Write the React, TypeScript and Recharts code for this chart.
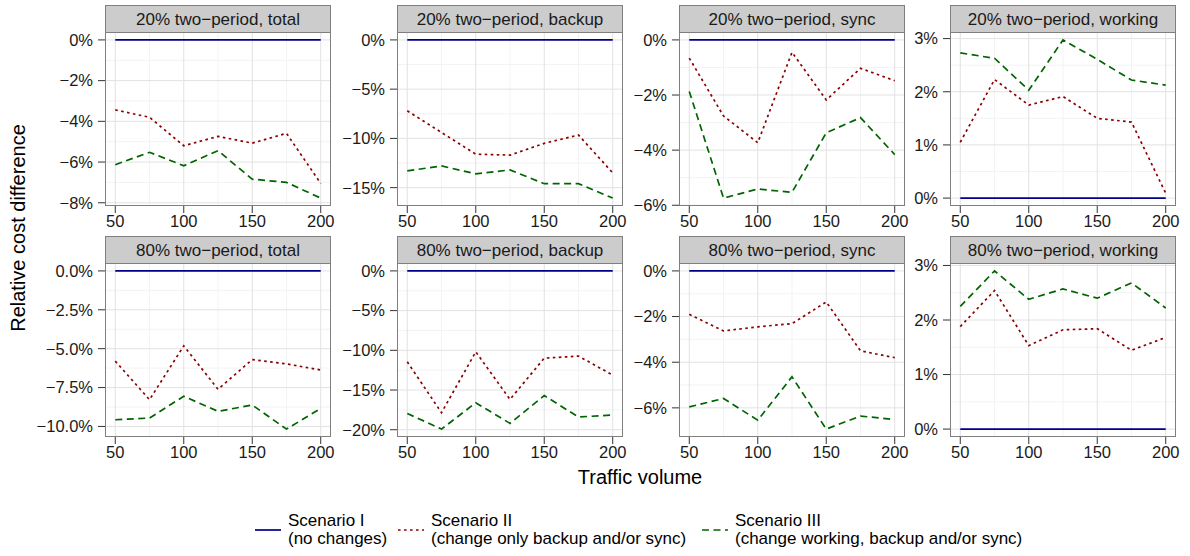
import React from "react";
import { LineChart, Line, XAxis, YAxis, CartesianGrid } from "recharts";

// traffic volume on the x axis
const volumes = [50, 75, 100, 125, 150, 175, 200];

// relative cost difference in %, Scenario I is the baseline
const scenarioI = [0, 0, 0, 0, 0, 0, 0];

const total20II = [-3.44, -3.8, -5.2, -4.74, -5.07, -4.59, -7.05];
const total20III = [-6.13, -5.52, -6.18, -5.44, -6.84, -7.0, -7.77];
const backup20II = [-7.2, -9.4, -11.6, -11.7, -10.5, -9.66, -13.5];
const backup20III = [-13.3, -12.8, -13.6, -13.2, -14.6, -14.6, -16.06];
const sync20II = [-0.66, -2.76, -3.73, -0.45, -2.18, -1.03, -1.48];
const sync20III = [-1.87, -5.74, -5.41, -5.53, -3.37, -2.82, -4.16];
const working20II = [1.05, 2.23, 1.75, 1.91, 1.5, 1.43, 0.09];
const working20III = [2.73, 2.63, 2.03, 2.975, 2.61, 2.22, 2.125];

const total80II = [-5.8, -8.28, -4.82, -7.61, -5.7, -5.98, -6.37];
const total80III = [-9.57, -9.46, -8.06, -9.03, -8.62, -10.17, -8.84];
const backup80II = [-11.45, -17.86, -10.19, -16.18, -10.99, -10.73, -13.12];
const backup80III = [-17.95, -19.92, -16.6, -19.2, -15.7, -18.4, -18.15];
const sync80II = [-1.9, -2.63, -2.45, -2.31, -1.36, -3.5, -3.8];
const sync80III = [-5.96, -5.59, -6.54, -4.64, -6.93, -6.36, -6.51];
const working80II = [1.88, 2.54, 1.53, 1.82, 1.84, 1.445, 1.68];
const working80III = [2.25, 2.9, 2.38, 2.57, 2.4, 2.68, 2.22];

const xTicks = [50, 100, 150, 200];
const xMinor = [75, 125, 175];

const ticksTotal20 = [0, -2, -4, -6, -8];
const ticksBackup20 = [0, -5, -10, -15];
const ticksSync = [0, -2, -4, -6];
const ticksWorking = [0, 1, 2, 3];
const ticksTotal80 = [0, -2.5, -5, -7.5, -10];
const ticksBackup80 = [0, -5, -10, -15, -20];

const legendLabels = [
  ["Scenario I", "(no changes)"],
  ["Scenario II", "(change only backup and/or sync)"],
  ["Scenario III", "(change working, backup and/or sync)"],
];

const FONT = '"Liberation Sans", Arial, Helvetica, sans-serif';
const BLUE = "#00008B";
const RED = "#8B0000";
const GREEN = "#006400";
const DOT = "2.6 3.4";
const DASH = "7 4.5";

const colLefts = [105, 397, 679, 950];
const stripTops = [5, 236];
const PW = 226;
const PH = 174;
const SH = 27;
const YW = 80;
const XH = 32;
const MT = 12; // room for the top tick label
const MR = 24; // room for the last x label

const pct0 = (v: number) => (v < 0 ? "\u2212" : "") + Math.abs(v) + "%";
const pct1 = (v: number) => (v < 0 ? "\u2212" : "") + Math.abs(v).toFixed(1) + "%";

const panels = [
  { title: "20% two\u2212period, total", s2: total20II, s3: total20III, ticks: ticksTotal20, fmt: pct0 },
  { title: "20% two\u2212period, backup", s2: backup20II, s3: backup20III, ticks: ticksBackup20, fmt: pct0 },
  { title: "20% two\u2212period, sync", s2: sync20II, s3: sync20III, ticks: ticksSync, fmt: pct0 },
  { title: "20% two\u2212period, working", s2: working20II, s3: working20III, ticks: ticksWorking, fmt: pct0 },
  { title: "80% two\u2212period, total", s2: total80II, s3: total80III, ticks: ticksTotal80, fmt: pct1 },
  { title: "80% two\u2212period, backup", s2: backup80II, s3: backup80III, ticks: ticksBackup80, fmt: pct0 },
  { title: "80% two\u2212period, sync", s2: sync80II, s3: sync80III, ticks: ticksSync, fmt: pct0 },
  { title: "80% two\u2212period, working", s2: working80II, s3: working80III, ticks: ticksWorking, fmt: pct0 },
];

const Panel = ({ p, left, top }: { p: (typeof panels)[number]; left: number; top: number }) => {
  const rows = volumes.map((v, i) => ({ v, s1: scenarioI[i], s2: p.s2[i], s3: p.s3[i] }));
  const all = [...scenarioI, ...p.s2, ...p.s3];
  const lo = Math.min(...all);
  const hi = Math.max(...all);
  const pad = (hi - lo) * 0.05;
  const minorY = p.ticks.slice(1).map((t, i) => (t + p.ticks[i]) / 2);
  const tickStyle = { fill: "#1a1a1a", fontSize: 16.5, fontFamily: FONT };

  return (
    <div style={{ position: "absolute", left: left - YW, top: top - MT }}>
      <LineChart
        width={PW + YW + MR}
        height={PH + XH + MT}
        data={rows}
        margin={{ top: MT, right: MR, bottom: 0, left: 0 }}
      >
        <CartesianGrid stroke="#f3f3f3" horizontalValues={minorY} verticalValues={xMinor} />
        <CartesianGrid stroke="#e2e2e2" horizontalValues={p.ticks} verticalValues={xTicks} />
        <XAxis
          dataKey="v"
          type="number"
          domain={[42.5, 207.5]}
          ticks={xTicks}
          interval={0}
          height={XH}
          tickSize={7}
          tickMargin={2}
          axisLine={false}
          tickLine={{ stroke: "#333" }}
          tick={tickStyle}
          allowDataOverflow
        />
        <YAxis
          type="number"
          domain={[lo - pad, hi + pad]}
          ticks={p.ticks}
          interval={0}
          width={YW}
          tickSize={7}
          tickMargin={5}
          axisLine={false}
          tickLine={{ stroke: "#333" }}
          tick={tickStyle}
          tickFormatter={p.fmt}
          allowDataOverflow
        />
        <Line type="linear" dataKey="s1" stroke={BLUE} strokeWidth={1.7} dot={false} activeDot={false} isAnimationActive={false} />
        <Line type="linear" dataKey="s2" stroke={RED} strokeWidth={1.7} strokeDasharray={DOT} dot={false} activeDot={false} isAnimationActive={false} />
        <Line type="linear" dataKey="s3" stroke={GREEN} strokeWidth={1.7} strokeDasharray={DASH} dot={false} activeDot={false} isAnimationActive={false} />
      </LineChart>
    </div>
  );
};

export default function App() {
  const keyX = [255, 398, 702];
  const textX = [288, 431, 735];
  const keyStyle = [
    { stroke: BLUE },
    { stroke: RED, strokeDasharray: DOT },
    { stroke: GREEN, strokeDasharray: DASH },
  ];

  return (
    <div style={{ position: "absolute", left: 0, top: 0, width: 1190, height: 556, background: "#fff", fontFamily: FONT }}>
      {panels.map((p, i) => {
        const row = Math.floor(i / 4);
        const col = i % 4;
        return <Panel key={i} p={p} left={colLefts[col]} top={stripTops[row] + SH} />;
      })}

      <svg width={1190} height={556} style={{ position: "absolute", left: 0, top: 0, pointerEvents: "none" }}>
        {panels.map((p, i) => {
          const row = Math.floor(i / 4);
          const col = i % 4;
          const x = colLefts[col];
          const y = stripTops[row];
          return (
            <g key={i}>
              <rect x={x + 0.5} y={y + 0.5} width={PW - 1} height={SH} fill="#cccccc" stroke="#7f7f7f" />
              <text x={x + PW / 2} y={y + 20} textAnchor="middle" fontSize={17} fill="#1a1a1a" fontFamily={FONT}>
                {p.title}
              </text>
              <rect x={x + 0.5} y={y + SH + 0.5} width={PW - 1} height={PH - 1} fill="none" stroke="#7f7f7f" />
            </g>
          );
        })}

        <text x={640} y={484} textAnchor="middle" fontSize={20} fill="#000" fontFamily={FONT}>
          Traffic volume
        </text>
        <text
          x={0}
          y={0}
          transform="translate(25,228) rotate(-90)"
          textAnchor="middle"
          fontSize={20}
          fill="#000"
          fontFamily={FONT}
        >
          Relative cost difference
        </text>

        {legendLabels.map((lab, i) => (
          <g key={i}>
            <line x1={keyX[i]} x2={keyX[i] + 26} y1={530} y2={530} strokeWidth={1.7} {...keyStyle[i]} />
            <text x={textX[i]} y={526} fontSize={17} fill="#000" fontFamily={FONT}>
              {lab[0]}
            </text>
            <text x={textX[i]} y={544} fontSize={17} fill="#000" fontFamily={FONT}>
              {lab[1]}
            </text>
          </g>
        ))}
      </svg>
    </div>
  );
}
